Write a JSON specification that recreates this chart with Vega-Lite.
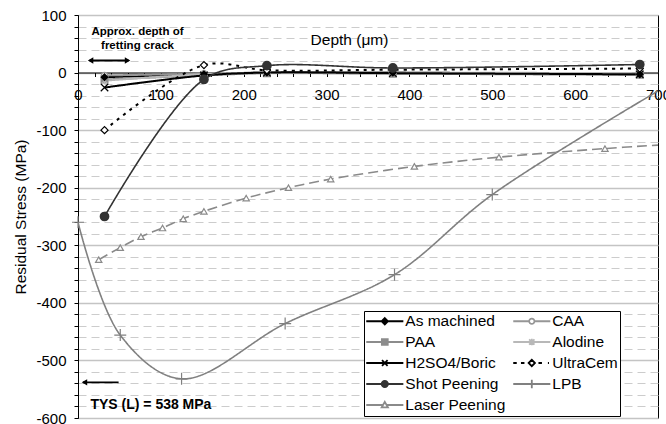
{
  "$schema": "https://vega.github.io/schema/vega-lite/v6.json",
  "width": 580,
  "height": 403,
  "autosize": {"type": "none"},
  "padding": {"left": 78, "top": 15, "right": 8, "bottom": 6},
  "background": "white",
  "config": {
    "font": "Liberation Sans",
    "view": {"stroke": "black", "strokeWidth": 1},
    "axis": {
      "labelFont": "Liberation Sans",
      "titleFont": "Liberation Sans",
      "labelColor": "black",
      "titleColor": "black",
      "domainColor": "black",
      "tickColor": "black",
      "labelFontSize": 15,
      "titleFontSize": 15.5,
      "titleFontWeight": "normal"
    }
  },
  "data": {
    "values": [
      {"s": "As machined", "x": 32, "y": -8},
      {"s": "As machined", "x": 152, "y": -3},
      {"s": "As machined", "x": 228, "y": 0},
      {"s": "As machined", "x": 380, "y": 0},
      {"s": "As machined", "x": 678, "y": -3},
      {"s": "CAA", "x": 32, "y": -5},
      {"s": "CAA", "x": 152, "y": -2},
      {"s": "CAA", "x": 228, "y": 0},
      {"s": "CAA", "x": 380, "y": -1},
      {"s": "CAA", "x": 678, "y": -2},
      {"s": "PAA", "x": 32, "y": -12},
      {"s": "PAA", "x": 152, "y": -5},
      {"s": "PAA", "x": 228, "y": -1},
      {"s": "PAA", "x": 380, "y": -2},
      {"s": "PAA", "x": 678, "y": -4},
      {"s": "Alodine", "x": 32, "y": -14},
      {"s": "Alodine", "x": 152, "y": -3},
      {"s": "Alodine", "x": 228, "y": 0},
      {"s": "Alodine", "x": 380, "y": 0},
      {"s": "Alodine", "x": 678, "y": -1},
      {"s": "H2SO4/Boric", "x": 32, "y": -26},
      {"s": "H2SO4/Boric", "x": 152, "y": -5},
      {"s": "H2SO4/Boric", "x": 228, "y": 0},
      {"s": "H2SO4/Boric", "x": 380, "y": -1},
      {"s": "H2SO4/Boric", "x": 678, "y": -3},
      {"s": "UltraCem", "x": 32, "y": -100},
      {"s": "UltraCem", "x": 152, "y": 13},
      {"s": "UltraCem", "x": 228, "y": 4},
      {"s": "UltraCem", "x": 380, "y": 5},
      {"s": "UltraCem", "x": 678, "y": 7},
      {"s": "Shot Peening", "x": 32, "y": -250},
      {"s": "Shot Peening", "x": 152, "y": -12},
      {"s": "Shot Peening", "x": 228, "y": 12},
      {"s": "Shot Peening", "x": 380, "y": 8},
      {"s": "Shot Peening", "x": 678, "y": 14},
      {"s": "LPB", "x": 0, "y": -260},
      {"s": "LPB", "x": 51, "y": -456},
      {"s": "LPB", "x": 125, "y": -532},
      {"s": "LPB", "x": 250, "y": -436},
      {"s": "LPB", "x": 382, "y": -351},
      {"s": "LPB", "x": 500, "y": -212},
      {"s": "LPB", "x": 700, "y": -32},
      {"s": "Laser Peening", "x": 25, "y": -325},
      {"s": "Laser Peening", "x": 51, "y": -304},
      {"s": "Laser Peening", "x": 76, "y": -285},
      {"s": "Laser Peening", "x": 102, "y": -270},
      {"s": "Laser Peening", "x": 127, "y": -254},
      {"s": "Laser Peening", "x": 152, "y": -241},
      {"s": "Laser Peening", "x": 203, "y": -218},
      {"s": "Laser Peening", "x": 254, "y": -200},
      {"s": "Laser Peening", "x": 305, "y": -185},
      {"s": "Laser Peening", "x": 406, "y": -163},
      {"s": "Laser Peening", "x": 508, "y": -147},
      {"s": "Laser Peening", "x": 636, "y": -132},
      {"s": "Laser Peening", "x": 700, "y": -126}
    ]
  },
  "encoding": {
    "x": {
      "field": "x",
      "type": "quantitative",
      "scale": {"domain": [0, 700], "nice": false, "zero": false},
      "axis": {
        "title": "Depth (μm)",
        "values": [0,20,40,60,80,100,120,140,160,180,200,220,240,260,280,300,320,340,360,380,400,420,440,460,480,500,520,540,560,580,600,620,640,660,680,700],
        "labelExpr": "datum.value % 100 === 0 ? '' + datum.value : ''",
        "labelOverlap": false,
        "labelFlush": false,
        "grid": false,
        "offset": -345.5,
        "tickSize": 4,
        "labelPadding": 11,
        "titleX": 271,
        "titleY": -33,
        "titleBaseline": "middle",
        "titleAlign": "center"
      }
    },
    "y": {
      "field": "y",
      "type": "quantitative",
      "scale": {"domain": [-600, 100], "nice": false, "zero": false},
      "axis": {
        "title": "Residual Stress (MPa)",
        "values": [-600,-580,-560,-540,-520,-500,-480,-460,-440,-420,-400,-380,-360,-340,-320,-300,-280,-260,-240,-220,-200,-180,-160,-140,-120,-100,-80,-60,-40,-20,0,20,40,60,80,100],
        "labelExpr": "datum.value % 100 === 0 ? '' + datum.value : ''",
        "labelOverlap": false,
        "labelFlush": false,
        "grid": true,
        "gridColor": {"condition": {"test": "datum.value % 100 === 0", "value": "#c4c4c4"}, "value": "#cccccc"},
        "gridDash": {"condition": {"test": "datum.value % 100 === 0", "value": []}, "value": [8, 5]},
        "gridWidth": {"condition": {"test": "datum.value % 100 === 0", "value": 1.5}, "value": 1},
        "tickSize": 4,
        "labelPadding": 8,
        "titleX": -58,
        "titleY": 201.5,
        "titleAngle": 270,
        "titleBaseline": "middle",
        "titleAlign": "center"
      }
    }
  },
  "layer": [
    {
      "transform": [{"filter": {"field": "s", "oneOf": ["As machined", "CAA", "PAA", "Alodine", "H2SO4/Boric", "UltraCem"]}}],
      "mark": {"type": "line", "interpolate": "catmull-rom", "clip": true, "strokeWidth": 2},
      "encoding": {
        "color": {"field": "s", "type": "nominal", "legend": null,
          "scale": {"domain": ["LPB", "Laser Peening", "Alodine", "PAA", "CAA", "Shot Peening", "UltraCem", "H2SO4/Boric", "As machined"],
                    "range": ["#808080", "#8a8a8a", "#b8b8b8", "#8c8c8c", "#969696", "#333333", "#000000", "#000000", "#000000"]}},
        "strokeDash": {"field": "s", "type": "nominal", "legend": null,
          "scale": {"domain": ["LPB", "Laser Peening", "Alodine", "PAA", "CAA", "Shot Peening", "UltraCem", "H2SO4/Boric", "As machined"],
                    "range": [[1, 0], [10, 5], [1, 0], [1, 0], [1, 0], [1, 0], [3, 5], [1, 0], [1, 0]]}}
      }
    },
    {
      "transform": [{"filter": {"field": "s", "oneOf": ["Shot Peening", "LPB", "Laser Peening"]}}],
      "mark": {"type": "line", "interpolate": "catmull-rom", "clip": true, "strokeWidth": 1.6},
      "encoding": {
        "color": {"field": "s", "type": "nominal", "legend": null},
        "strokeDash": {"field": "s", "type": "nominal", "legend": null}
      }
    },
    {
      "transform": [{"filter": "datum.s === 'CAA'"}],
      "mark": {"type": "point", "shape": "circle", "filled": true, "fill": "white", "stroke": "#969696", "strokeWidth": 1.2, "size": 40, "opacity": 1}
    },
    {
      "transform": [{"filter": "datum.s === 'PAA'"}],
      "mark": {"type": "point", "shape": "square", "filled": true, "fill": "#8c8c8c", "stroke": "#8c8c8c", "size": 36, "opacity": 1}
    },
    {
      "transform": [{"filter": "datum.s === 'Alodine'"}],
      "mark": {"type": "point", "shape": "M-1,-1L1,1M-1,1L1,-1M0,-1.3V1.3", "filled": false, "stroke": "#b8b8b8", "strokeWidth": 1.2, "size": 30, "opacity": 1}
    },
    {
      "transform": [{"filter": "datum.s === 'As machined'"}],
      "mark": {"type": "point", "shape": "diamond", "filled": true, "fill": "black", "stroke": "black", "size": 30, "opacity": 1}
    },
    {
      "transform": [{"filter": "datum.s === 'H2SO4/Boric'"}],
      "mark": {"type": "point", "shape": "M-1,-1L1,1M-1,1L1,-1", "filled": false, "stroke": "black", "strokeWidth": 1.2, "size": 56, "opacity": 1}
    },
    {
      "transform": [{"filter": "datum.s === 'UltraCem'"}],
      "mark": {"type": "point", "shape": "diamond", "filled": true, "fill": "white", "stroke": "black", "strokeWidth": 1.2, "size": 50, "opacity": 1}
    },
    {
      "transform": [{"filter": "datum.s === 'LPB' && datum.x < 700"}],
      "mark": {"type": "point", "shape": "M-1,0H1M0,-1V1", "filled": false, "stroke": "#808080", "strokeWidth": 1.2, "size": 144, "opacity": 1}
    },
    {
      "transform": [{"filter": "datum.s === 'Laser Peening' && datum.x < 700"}],
      "mark": {"type": "point", "shape": "triangle-up", "filled": true, "fill": "white", "stroke": "#8a8a8a", "strokeWidth": 1.2, "size": 40, "opacity": 1}
    },
    {
      "transform": [{"filter": "datum.s === 'Shot Peening'"}],
      "mark": {"type": "point", "shape": "circle", "filled": true, "fill": "#333333", "stroke": "#333333", "size": 60, "opacity": 1}
    },
    {
      "data": {"values": [{"x": 14, "x2": 61, "y": 21}, {"x": 6, "x2": 49, "y": -538}]},
      "mark": {"type": "rule", "color": "black", "strokeWidth": 1.8},
      "encoding": {"x2": {"field": "x2"}}
    },
    {
      "data": {"values": [{"x": 15.2, "y": 21}, {"x": 7.8, "y": -538}]},
      "mark": {"type": "point", "shape": "triangle-left", "filled": true, "color": "black", "size": 40, "opacity": 1}
    },
    {
      "data": {"values": [{"x": 59.8, "y": 21}]},
      "mark": {"type": "point", "shape": "triangle-right", "filled": true, "color": "black", "size": 40, "opacity": 1}
    },
    {
      "data": {"values": [{"x": 71.8, "y": 71, "t": "Approx. depth of"}, {"x": 71.8, "y": 47, "t": "fretting crack"}]},
      "mark": {"type": "text", "font": "Liberation Sans", "fontWeight": "bold", "fontSize": 11.5, "align": "center", "baseline": "middle", "color": "black"},
      "encoding": {"text": {"field": "t"}}
    },
    {
      "data": {"values": [{"x": 15, "y": -577, "t": "TYS (L) = 538 MPa"}]},
      "mark": {"type": "text", "font": "Liberation Sans", "fontWeight": "bold", "fontSize": 14, "align": "left", "baseline": "middle", "color": "black"},
      "encoding": {"text": {"field": "t"}}
    },
    {
      "mark": {"type": "point", "opacity": 0, "size": 0, "strokeWidth": 1.8},
      "encoding": {
        "shape": {"field": "s", "type": "nominal",
          "scale": {"domain": ["As machined", "CAA", "PAA", "Alodine", "H2SO4/Boric", "UltraCem", "Shot Peening", "LPB", "Laser Peening"],
            "range": [
              "M-2.65,0H2.65M0,-0.45L0.45,0L0,0.45L-0.45,0Z",
              "M-2.65,0H-0.38M0.38,0H2.65M-0.38,0A0.38 0.38 0 1 1 0.38,0A0.38 0.38 0 1 1 -0.38,0Z",
              "M-2.65,0H2.65M-0.42,-0.42H0.42V0.42H-0.42Z",
              "M-2.65,0H2.65M-0.38,-0.38L0.38,0.38M-0.38,0.38L0.38,-0.38M0,-0.48V0.48",
              "M-2.65,0H2.65M-0.4,-0.4L0.4,0.4M-0.4,0.4L0.4,-0.4",
              "M-2.65,0H-2.15M-1.55,0H-1.05M-0.45,0L0,-0.45L0.45,0L0,0.45ZM0.95,0H1.45M2.3,0H2.45",
              "M-2.65,0H2.65M-0.45,0A0.45 0.45 0 1 1 0.45,0A0.45 0.45 0 1 1 -0.45,0Z",
              "M-2.65,0H2.65M0,-0.6V0.6",
              "M-2.65,0H-0.25M0.25,0H2.65M0,-0.45L0.45,0.35L-0.45,0.35Z"
            ]},
          "legend": {"title": null, "orient": "none", "direction": "horizontal", "gridAlign": "all", "legendX": 286, "legendY": 296, "columns": 2, "columnPadding": 3, "rowPadding": 4, "padding": 2, "symbolSize": 196, "symbolOpacity": 1, "symbolOffset": 10.8, "labelOffset": 12.5, "labelFontSize": 15.5, "labelFont": "Liberation Sans", "labelColor": "black", "strokeColor": "black", "fillColor": "white", "symbolStrokeWidth": 1.8, "labelLimit": 300, "zindex": 2}},
        "stroke": {"field": "s", "type": "nominal",
          "scale": {"domain": ["As machined", "CAA", "PAA", "Alodine", "H2SO4/Boric", "UltraCem", "Shot Peening", "LPB", "Laser Peening"],
            "range": ["#000000", "#969696", "#8c8c8c", "#b8b8b8", "#000000", "#000000", "#333333", "#808080", "#8a8a8a"]},
          "legend": {"title": null, "orient": "none", "direction": "horizontal", "gridAlign": "all", "legendX": 286, "legendY": 296, "columns": 2, "columnPadding": 3, "rowPadding": 4, "padding": 2, "symbolSize": 196, "symbolOpacity": 1, "symbolOffset": 10.8, "labelOffset": 12.5, "labelFontSize": 15.5, "labelFont": "Liberation Sans", "labelColor": "black", "strokeColor": "black", "fillColor": "white", "symbolStrokeWidth": 1.8, "labelLimit": 300, "zindex": 2}},
        "fill": {"field": "s", "type": "nominal",
          "scale": {"domain": ["As machined", "CAA", "PAA", "Alodine", "H2SO4/Boric", "UltraCem", "Shot Peening", "LPB", "Laser Peening"],
            "range": ["#000000", "#ffffff", "#8c8c8c", "transparent", "transparent", "#ffffff", "#333333", "transparent", "#ffffff"]},
          "legend": {"title": null, "orient": "none", "direction": "horizontal", "gridAlign": "all", "legendX": 286, "legendY": 296, "columns": 2, "columnPadding": 3, "rowPadding": 4, "padding": 2, "symbolSize": 196, "symbolOpacity": 1, "symbolOffset": 10.8, "labelOffset": 12.5, "labelFontSize": 15.5, "labelFont": "Liberation Sans", "labelColor": "black", "strokeColor": "black", "fillColor": "white", "symbolStrokeWidth": 1.8, "labelLimit": 300, "zindex": 2}}
      }
    }
  ]
}
